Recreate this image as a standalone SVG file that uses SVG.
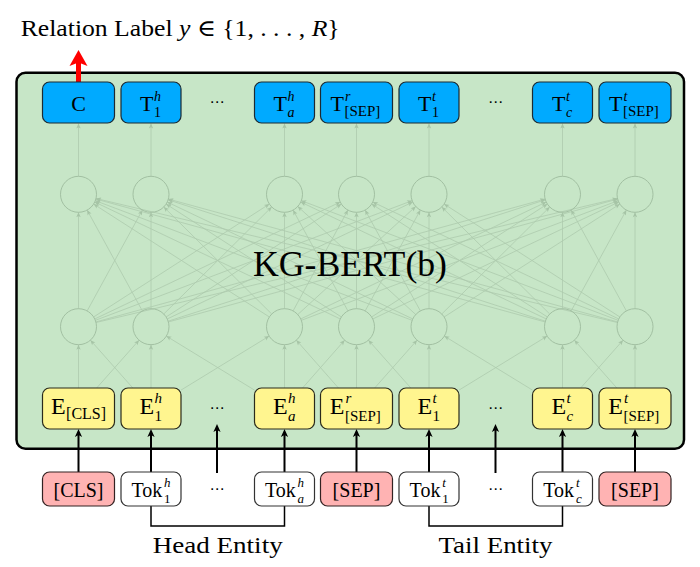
<svg xmlns="http://www.w3.org/2000/svg" width="700" height="567" viewBox="0 0 700 567" font-family="'Liberation Serif','Times New Roman',Times,'DejaVu Serif',serif">
<style>
.t{font-family:'Liberation Serif','Times New Roman',Times,'DejaVu Serif',serif;fill:#000}
.it{font-style:italic}
.dots{font-family:'DejaVu Sans',sans-serif;font-size:15px;fill:#000}
.blue{fill:#00aaff;stroke:#1c2a33;stroke-width:1.2}
.yel{fill:#fff58f;stroke:#2a2a1c;stroke-width:1.2}
.pink{fill:#ffb3b3;stroke:#332222;stroke-width:1.2}
.white{fill:#fff;stroke:#333;stroke-width:1.2}
.neu{fill:none;stroke:#a2c0a2;stroke-width:1}
.thin line{stroke:#adcaad;stroke-width:0.8;marker-end:url(#ah-thin)}
.blk line{stroke:#000;stroke-width:2;marker-end:url(#ah-blk)}
</style>
<defs>
<marker id="ah-thin" markerUnits="userSpaceOnUse" markerWidth="8" markerHeight="8" refX="0" refY="0" orient="auto" overflow="visible"><path d="M0,0 L-5,-2.2 L-3.8,0 L-5,2.2 Z" fill="#a6c4a6"/></marker>
<marker id="ah-blk" markerUnits="userSpaceOnUse" markerWidth="10" markerHeight="10" refX="-4" refY="0" orient="auto" overflow="visible"><path d="M0,0 L-8,-3.6 L-6,0 L-8,3.6 Z" fill="#000"/></marker>
<marker id="ah-red" markerUnits="userSpaceOnUse" markerWidth="20" markerHeight="20" refX="-10" refY="0" orient="auto" overflow="visible"><path d="M0,0 L-16,-9 L-12.5,0 L-16,9 Z" fill="#ff0000"/></marker>
</defs>
<rect x="0" y="0" width="700" height="567" fill="#fff"/>

<g id="title"><text class="t" x="20.7" y="36" font-size="23" textLength="319" lengthAdjust="spacingAndGlyphs">Relation Label <tspan class="it">y</tspan> ∈ {1, . . . , <tspan class="it">R</tspan>}</text></g>

<g id="kgbert-frame"><rect x="16.5" y="72.8" width="667.5" height="376" rx="9" fill="#c7e6c7" stroke="#000" stroke-width="2.5"/></g>

<g id="connectors">
<g class="thin">
<line x1="78.5" y1="176.3" x2="78.5" y2="123.5"/>
<line x1="151" y1="176.3" x2="151" y2="123.5"/>
<line x1="284.5" y1="176.3" x2="284.5" y2="123.5"/>
<line x1="356.5" y1="176.3" x2="356.5" y2="123.5"/>
<line x1="429" y1="176.3" x2="429" y2="123.5"/>
<line x1="562.5" y1="176.3" x2="562.5" y2="123.5"/>
<line x1="635" y1="176.3" x2="635" y2="123.5"/>

<line x1="78.5" y1="308.7" x2="78.5" y2="212.3"/>
<line x1="87.15" y1="310.91" x2="142.36" y2="210.09"/>
<line x1="93.64" y1="316.97" x2="269.36" y2="204.03"/>
<line x1="94.75" y1="318.96" x2="340.25" y2="202.04"/>
<line x1="95.34" y1="320.34" x2="412.16" y2="200.66"/>
<line x1="95.86" y1="321.95" x2="545.14" y2="199.05"/>
<line x1="96.01" y1="322.53" x2="617.49" y2="198.47"/>

<line x1="142.36" y1="310.91" x2="87.15" y2="210.09"/>
<line x1="151" y1="308.7" x2="151" y2="212.3"/>
<line x1="163.78" y1="314.03" x2="271.72" y2="206.98"/>
<line x1="166.13" y1="316.95" x2="341.37" y2="204.05"/>
<line x1="167.25" y1="318.96" x2="412.75" y2="202.04"/>
<line x1="168.13" y1="321.19" x2="545.37" y2="199.81"/>
<line x1="168.36" y1="321.95" x2="617.64" y2="199.05"/>

<line x1="269.36" y1="316.97" x2="93.64" y2="204.03"/>
<line x1="271.72" y1="314.03" x2="163.78" y2="206.98"/>
<line x1="284.5" y1="308.7" x2="284.5" y2="212.3"/>
<line x1="293.1" y1="310.89" x2="347.9" y2="210.11"/>
<line x1="297.77" y1="314.54" x2="415.73" y2="206.46"/>
<line x1="300.75" y1="318.96" x2="546.25" y2="202.04"/>
<line x1="301.34" y1="320.34" x2="618.16" y2="200.66"/>

<line x1="340.25" y1="318.96" x2="94.75" y2="202.04"/>
<line x1="341.37" y1="316.95" x2="166.13" y2="204.05"/>
<line x1="347.9" y1="310.89" x2="293.1" y2="210.11"/>
<line x1="356.5" y1="308.7" x2="356.5" y2="212.3"/>
<line x1="365.15" y1="310.91" x2="420.36" y2="210.09"/>
<line x1="371.64" y1="316.97" x2="547.36" y2="204.03"/>
<line x1="372.76" y1="318.97" x2="618.74" y2="202.03"/>

<line x1="412.16" y1="320.34" x2="95.34" y2="200.66"/>
<line x1="412.75" y1="318.96" x2="167.25" y2="202.04"/>
<line x1="415.73" y1="314.54" x2="297.77" y2="206.46"/>
<line x1="420.36" y1="310.91" x2="365.15" y2="210.09"/>
<line x1="429" y1="308.7" x2="429" y2="212.3"/>
<line x1="441.78" y1="314.03" x2="549.72" y2="206.98"/>
<line x1="444.14" y1="316.97" x2="619.86" y2="204.03"/>

<line x1="545.14" y1="321.95" x2="95.86" y2="199.05"/>
<line x1="545.37" y1="321.19" x2="168.13" y2="199.81"/>
<line x1="546.25" y1="318.96" x2="300.75" y2="202.04"/>
<line x1="547.36" y1="316.97" x2="371.64" y2="204.03"/>
<line x1="549.72" y1="314.03" x2="441.78" y2="206.98"/>
<line x1="562.5" y1="308.7" x2="562.5" y2="212.3"/>
<line x1="571.15" y1="310.91" x2="626.36" y2="210.09"/>

<line x1="617.49" y1="322.53" x2="96.01" y2="198.47"/>
<line x1="617.64" y1="321.95" x2="168.36" y2="199.05"/>
<line x1="618.16" y1="320.34" x2="301.34" y2="200.66"/>
<line x1="618.74" y1="318.97" x2="372.76" y2="202.03"/>
<line x1="619.86" y1="316.97" x2="444.14" y2="204.03"/>
<line x1="626.36" y1="310.91" x2="571.15" y2="210.09"/>
<line x1="635" y1="308.7" x2="635" y2="212.3"/>

<line x1="78.5" y1="388" x2="78.5" y2="344.7"/>
<line x1="96.67" y1="388" x2="139.06" y2="340.17"/>
<line x1="132.83" y1="388" x2="90.44" y2="340.17"/>
<line x1="151" y1="388" x2="151" y2="344.7"/>
<line x1="181" y1="390.12" x2="269.15" y2="336.1"/>
<line x1="254.5" y1="390.12" x2="166.35" y2="336.1"/>
<line x1="284.5" y1="388" x2="284.5" y2="344.7"/>
<line x1="302.54" y1="388" x2="344.61" y2="340.21"/>
<line x1="338.46" y1="388" x2="296.39" y2="340.21"/>
<line x1="356.5" y1="388" x2="356.5" y2="344.7"/>
<line x1="374.67" y1="388" x2="417.06" y2="340.17"/>
<line x1="410.83" y1="388" x2="368.44" y2="340.17"/>
<line x1="429" y1="388" x2="429" y2="344.7"/>
<line x1="459" y1="390.12" x2="547.15" y2="336.1"/>
<line x1="532.5" y1="390.12" x2="444.35" y2="336.1"/>
<line x1="562.5" y1="388" x2="562.5" y2="344.7"/>
<line x1="580.67" y1="388" x2="623.06" y2="340.17"/>
<line x1="616.83" y1="388" x2="574.44" y2="340.17"/>
<line x1="635" y1="388" x2="635" y2="344.7"/>
</g>
<g class="blk">
<line x1="78.5" y1="472" x2="78.5" y2="433"/>
<line x1="151" y1="472" x2="151" y2="433"/>
<line x1="217" y1="473" x2="217" y2="428"/>
<line x1="284.5" y1="472" x2="284.5" y2="433"/>
<line x1="356.5" y1="472" x2="356.5" y2="433"/>
<line x1="429" y1="472" x2="429" y2="433"/>
<line x1="495.5" y1="473" x2="495.5" y2="428"/>
<line x1="562.5" y1="472" x2="562.5" y2="433"/>
<line x1="635" y1="472" x2="635" y2="433"/>
</g>
<line x1="78.5" y1="82" x2="78.5" y2="60" stroke="#ff0000" stroke-width="5" marker-end="url(#ah-red)"/>
<path d="M151,506 V526 H284.5 V506" fill="none" stroke="#000" stroke-width="1.5"/>
<path d="M429,506 V526 H562.5 V506" fill="none" stroke="#000" stroke-width="1.5"/>
</g>

<g id="kgbert-label"><text class="t" x="350" y="276" font-size="36" text-anchor="middle" textLength="194" lengthAdjust="spacingAndGlyphs">KG-BERT(b)</text></g>

<g id="out-C"><rect class="blue" x="42.5" y="82" width="72" height="41" rx="7"/><text class="t" x="78.5" y="110.7" font-size="22" text-anchor="middle">C</text></g>
<g id="out-T1h"><rect class="blue" x="121" y="82" width="60" height="41" rx="7"/><text class="t" font-size="22"><tspan x="140" y="110.7">T</tspan><tspan class="it" x="154" y="101" font-size="14">h</tspan><tspan x="154" y="116.5" font-size="14">1</tspan></text></g>
<g id="out-dots1"><text class="dots" x="217" y="107" text-anchor="middle">⋯</text></g>
<g id="out-Tah"><rect class="blue" x="254.5" y="82" width="60" height="41" rx="7"/><text class="t" font-size="22"><tspan x="273.5" y="110.7">T</tspan><tspan class="it" x="287.5" y="101" font-size="14">h</tspan><tspan class="it" x="287.5" y="116.5" font-size="14">a</tspan></text></g>
<g id="out-Tsepr"><rect class="blue" x="320.5" y="82" width="72" height="41" rx="7"/><text class="t" font-size="22"><tspan x="330.4" y="110.7">T</tspan><tspan class="it" x="345" y="100.5" font-size="14">r</tspan><tspan x="344.4" y="116" font-size="15">[SEP]</tspan></text></g>
<g id="out-T1t"><rect class="blue" x="399" y="82" width="60" height="41" rx="7"/><text class="t" font-size="22"><tspan x="418" y="110.7">T</tspan><tspan class="it" x="432" y="100.5" font-size="14">t</tspan><tspan x="432" y="116.5" font-size="14">1</tspan></text></g>
<g id="out-dots2"><text class="dots" x="495.5" y="107" text-anchor="middle">⋯</text></g>
<g id="out-Tct"><rect class="blue" x="532.5" y="82" width="60" height="41" rx="7"/><text class="t" font-size="22"><tspan x="552" y="110.7">T</tspan><tspan class="it" x="566" y="100.5" font-size="14">t</tspan><tspan class="it" x="566" y="116.5" font-size="14">c</tspan></text></g>
<g id="out-Tsept"><rect class="blue" x="599" y="82" width="72" height="41" rx="7"/><text class="t" font-size="22"><tspan x="608.9" y="110.7">T</tspan><tspan class="it" x="623.5" y="100.5" font-size="14">t</tspan><tspan x="622.9" y="116" font-size="15">[SEP]</tspan></text></g>

<g id="hid2-0"><circle class="neu" cx="78.5" cy="194.3" r="18"/></g>
<g id="hid2-1"><circle class="neu" cx="151" cy="194.3" r="18"/></g>
<g id="hid2-2"><circle class="neu" cx="284.5" cy="194.3" r="18"/></g>
<g id="hid2-3"><circle class="neu" cx="356.5" cy="194.3" r="18"/></g>
<g id="hid2-4"><circle class="neu" cx="429" cy="194.3" r="18"/></g>
<g id="hid2-5"><circle class="neu" cx="562.5" cy="194.3" r="18"/></g>
<g id="hid2-6"><circle class="neu" cx="635" cy="194.3" r="18"/></g>

<g id="hid1-0"><circle class="neu" cx="78.5" cy="326.7" r="18"/></g>
<g id="hid1-1"><circle class="neu" cx="151" cy="326.7" r="18"/></g>
<g id="hid1-2"><circle class="neu" cx="284.5" cy="326.7" r="18"/></g>
<g id="hid1-3"><circle class="neu" cx="356.5" cy="326.7" r="18"/></g>
<g id="hid1-4"><circle class="neu" cx="429" cy="326.7" r="18"/></g>
<g id="hid1-5"><circle class="neu" cx="562.5" cy="326.7" r="18"/></g>
<g id="hid1-6"><circle class="neu" cx="635" cy="326.7" r="18"/></g>

<g id="emb-CLS"><rect class="yel" x="42.5" y="388" width="72" height="41" rx="7"/><text class="t" font-size="24"><tspan x="50.9" y="413.5">E</tspan><tspan x="66.1" y="418.5" font-size="16">[CLS]</tspan></text></g>
<g id="emb-E1h"><rect class="yel" x="121" y="388" width="60" height="41" rx="7"/><text class="t" font-size="24"><tspan x="139.4" y="413.5">E</tspan><tspan class="it" x="154.6" y="403" font-size="15">h</tspan><tspan x="154.6" y="420.5" font-size="15">1</tspan></text></g>
<g id="emb-dots1"><text class="dots" x="217" y="413" text-anchor="middle">⋯</text></g>
<g id="emb-Eah"><rect class="yel" x="254.5" y="388" width="60" height="41" rx="7"/><text class="t" font-size="24"><tspan x="272.9" y="413.5">E</tspan><tspan class="it" x="288.1" y="403" font-size="15">h</tspan><tspan class="it" x="288.1" y="420.5" font-size="15">a</tspan></text></g>
<g id="emb-Esepr"><rect class="yel" x="320.5" y="388" width="72" height="41" rx="7"/><text class="t" font-size="24"><tspan x="329.8" y="413.5">E</tspan><tspan class="it" x="345.5" y="402.5" font-size="15">r</tspan><tspan x="345" y="420.5" font-size="15">[SEP]</tspan></text></g>
<g id="emb-E1t"><rect class="yel" x="399" y="388" width="60" height="41" rx="7"/><text class="t" font-size="24"><tspan x="417.4" y="413.5">E</tspan><tspan class="it" x="432.6" y="402.5" font-size="15">t</tspan><tspan x="432.6" y="420.5" font-size="15">1</tspan></text></g>
<g id="emb-dots2"><text class="dots" x="495.5" y="413" text-anchor="middle">⋯</text></g>
<g id="emb-Ect"><rect class="yel" x="532.5" y="388" width="60" height="41" rx="7"/><text class="t" font-size="24"><tspan x="551.4" y="413.5">E</tspan><tspan class="it" x="566.6" y="402.5" font-size="15">t</tspan><tspan class="it" x="566.6" y="420.5" font-size="15">c</tspan></text></g>
<g id="emb-Esept"><rect class="yel" x="599" y="388" width="72" height="41" rx="7"/><text class="t" font-size="24"><tspan x="608.3" y="413.5">E</tspan><tspan class="it" x="624" y="402.5" font-size="15">t</tspan><tspan x="623.5" y="420.5" font-size="15">[SEP]</tspan></text></g>

<g id="tok-CLS"><rect class="pink" x="42.5" y="472" width="72" height="34" rx="7"/><text class="t" x="78.5" y="497" font-size="20" text-anchor="middle">[CLS]</text></g>
<g id="tok-1h"><rect class="white" x="121" y="472" width="60" height="34" rx="7"/><text class="t" font-size="20"><tspan x="131.4" y="497.3">Tok</tspan><tspan class="it" x="164.1" y="487" font-size="13">h</tspan><tspan x="164.1" y="502.5" font-size="13">1</tspan></text></g>
<g id="tok-dots1"><text class="dots" x="217" y="494" text-anchor="middle">⋯</text></g>
<g id="tok-ah"><rect class="white" x="254.5" y="472" width="60" height="34" rx="7"/><text class="t" font-size="20"><tspan x="264.9" y="497.3">Tok</tspan><tspan class="it" x="297.6" y="487" font-size="13">h</tspan><tspan class="it" x="297.6" y="502.5" font-size="13">a</tspan></text></g>
<g id="tok-SEP1"><rect class="pink" x="320.5" y="472" width="72" height="34" rx="7"/><text class="t" x="356.5" y="497" font-size="20" text-anchor="middle">[SEP]</text></g>
<g id="tok-1t"><rect class="white" x="399" y="472" width="60" height="34" rx="7"/><text class="t" font-size="20"><tspan x="409.6" y="497.3">Tok</tspan><tspan class="it" x="442.3" y="487" font-size="13">t</tspan><tspan x="442.3" y="502.5" font-size="13">1</tspan></text></g>
<g id="tok-dots2"><text class="dots" x="495.5" y="494" text-anchor="middle">⋯</text></g>
<g id="tok-ct"><rect class="white" x="532.5" y="472" width="60" height="34" rx="7"/><text class="t" font-size="20"><tspan x="543.2" y="497.3">Tok</tspan><tspan class="it" x="575.9" y="487" font-size="13">t</tspan><tspan class="it" x="575.9" y="502.5" font-size="13">c</tspan></text></g>
<g id="tok-SEP2"><rect class="pink" x="599" y="472" width="72" height="34" rx="7"/><text class="t" x="635" y="497" font-size="20" text-anchor="middle">[SEP]</text></g>

<g id="head-entity"><text class="t" x="217.7" y="552.7" font-size="23" text-anchor="middle" textLength="130" lengthAdjust="spacingAndGlyphs">Head Entity</text></g>
<g id="tail-entity"><text class="t" x="495.5" y="552.7" font-size="23" text-anchor="middle" textLength="114" lengthAdjust="spacingAndGlyphs">Tail Entity</text></g>
</svg>
